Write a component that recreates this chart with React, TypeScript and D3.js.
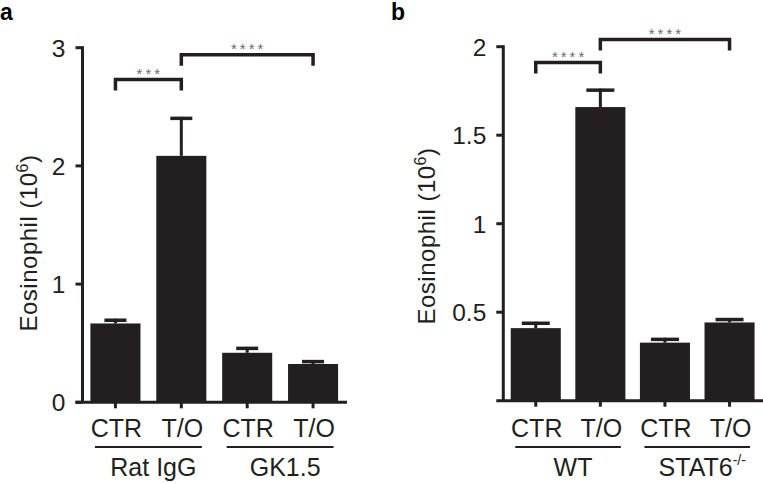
import React from "react";
import * as d3 from "d3";

const categories = ["CTR", "T/O", "CTR", "T/O"];

const groupsA = ["Rat IgG", "GK1.5"];
const meanA = [0.667, 2.085, 0.419, 0.324];
const semA = [0.04, 0.33, 0.05, 0.033];
const ticksA = [0, 1, 2, 3];
const sigA = [
  { from: 0, to: 1, y: 2.73, label: "***" },
  { from: 1, to: 3, y: 2.94, label: "****" },
];

const groupsB = ["WT", "STAT6"];
const groupSupB = ["", "-/-"];
const meanB = [0.41, 1.659, 0.328, 0.442];
const semB = [0.036, 0.104, 0.027, 0.025];
const ticksB = [0.5, 1, 1.5, 2];
const sigB = [
  { from: 0, to: 1, y: 1.911, label: "****" },
  { from: 1, to: 3, y: 2.04, label: "****" },
];

const INK = "#231f20";
const FONT = "'Liberation Sans', Arial, Helvetica, sans-serif";

type PanelProps = {
  letter: string;
  letterX: number;
  means: number[];
  sems: number[];
  ticks: number[];
  yDomain: [number, number];
  yRange: [number, number];
  xRange: [number, number];
  padInner: number;
  padOuter: number;
  groups: string[];
  groupSup: string[];
  sig: { from: number; to: number; y: number; label: string }[];
  capW: number;
  labelX: number;
  labelY: number;
};

function Panel(p: PanelProps) {
  const y = d3.scaleLinear().domain(p.yDomain).range(p.yRange);
  const x = d3
    .scaleBand<string>()
    .domain(categories.map((_, i) => String(i)))
    .range(p.xRange)
    .paddingInner(p.padInner)
    .paddingOuter(p.padOuter);
  const bw = x.bandwidth();
  const cx = (i: number) => (x(String(i)) as number) + bw / 2;
  const axisX = p.xRange[0];
  const y0 = y(0);
  const fmt = (v: number) => String(v);
  return (
    <g>
      <text x={p.letterX} y={20} fontFamily={FONT} fontWeight="bold" fontSize={23} fill="#000">
        {p.letter}
      </text>
      {p.means.map((m, i) => (
        <rect key={"b" + i} x={x(String(i))} y={y(m)} width={bw} height={y0 - y(m)} fill={INK} />
      ))}
      {p.means.map((m, i) => {
        const top = y(m + p.sems[i]);
        return (
          <g key={"e" + i}>
            <line x1={cx(i)} x2={cx(i)} y1={y(m)} y2={top} stroke={INK} strokeWidth={3} />
            <line x1={cx(i) - p.capW / 2} x2={cx(i) + p.capW / 2} y1={top + 1.5} y2={top + 1.5} stroke={INK} strokeWidth={3.5} />
          </g>
        );
      })}
      <line x1={axisX} x2={axisX} y1={y(p.yDomain[1]) - 1.5} y2={y0} stroke={INK} strokeWidth={3} />
      {p.ticks.map((t) => (
        <g key={"t" + t}>
          <line x1={axisX - 7} x2={axisX} y1={y(t)} y2={y(t)} stroke={INK} strokeWidth={3} />
          <text x={axisX - 17} y={y(t)} dy="0.36em" textAnchor="end" fontFamily={FONT} fontSize={24.5} fill={INK}>
            {fmt(t)}
          </text>
        </g>
      ))}
      <line x1={axisX - 7} x2={p.xRange[1] + 1} y1={y0} y2={y0} stroke={INK} strokeWidth={3} />
      {categories.map((c, i) => (
        <g key={"x" + i}>
          <line x1={cx(i)} x2={cx(i)} y1={y0} y2={y0 + 6} stroke={INK} strokeWidth={3} />
          <text x={cx(i) + 1} y={437} textAnchor="middle" fontFamily={FONT} fontSize={25} fill={INK}>
            {c}
          </text>
        </g>
      ))}
      {p.groups.map((g, gi) => {
        const a = cx(gi * 2);
        const b = cx(gi * 2 + 1);
        return (
          <g key={"g" + gi}>
            <line x1={a - 20.5} x2={b + 20.5} y1={447} y2={447} stroke={INK} strokeWidth={2} />
            <text x={(a + b) / 2 + 5} y={475.5} textAnchor="middle" fontFamily={FONT} fontSize={25} fill={INK}>
              {g}
              {p.groupSup[gi] ? (
                <tspan fontSize={14} dy={-11}>
                  {p.groupSup[gi]}
                </tspan>
              ) : null}
            </text>
          </g>
        );
      })}
      {p.sig.map((s, si) => {
        const a = cx(s.from);
        const b = cx(s.to);
        const yy = y(s.y);
        return (
          <g key={"s" + si}>
            <path d={`M${a},${yy + 11} V${yy} H${b} V${yy + 11}`} fill="none" stroke={INK} strokeWidth={3.5} />
            <text x={(a + b) / 2 + 1.5} y={yy - 0.5} textAnchor="middle" fontFamily={FONT} fontSize={15} letterSpacing={3} fill="#6a6a6a">
              {s.label}
            </text>
          </g>
        );
      })}
      <text
        transform={`translate(${p.labelX},${p.labelY}) rotate(-90)`}
        textAnchor="middle"
        fontFamily={FONT}
        fontSize={24}
        letterSpacing={0.5}
        fill={INK}
      >
        Eosinophil (10
        <tspan fontSize={16} dy={-9}>
          6
        </tspan>
        <tspan dy={9}>)</tspan>
      </text>
    </g>
  );
}

export default function App() {
  return (
    <svg width={763} height={483} style={{ position: "absolute", left: 0, top: 0, background: "#fff" }}>
      <rect width={763} height={483} fill="#fff" />
      <Panel
        letter="a"
        letterX={0}
        means={meanA}
        sems={semA}
        ticks={ticksA}
        yDomain={[0, 3]}
        yRange={[402.3, 47.7]}
        xRange={[82.5, 346]}
        padInner={0.24}
        padOuter={0.12}
        groups={groupsA}
        groupSup={["", ""]}
        sig={sigA}
        capW={22}
        labelX={37}
        labelY={243}
      />
      <Panel
        letter="b"
        letterX={391}
        means={meanB}
        sems={semB}
        ticks={ticksB}
        yDomain={[0, 2]}
        yRange={[400.7, 46.7]}
        xRange={[503.3, 762]}
        padInner={0.225}
        padOuter={0.115}
        groups={groupsB}
        groupSup={groupSupB}
        sig={sigB}
        capW={28}
        labelX={435}
        labelY={236}
      />
    </svg>
  );
}
